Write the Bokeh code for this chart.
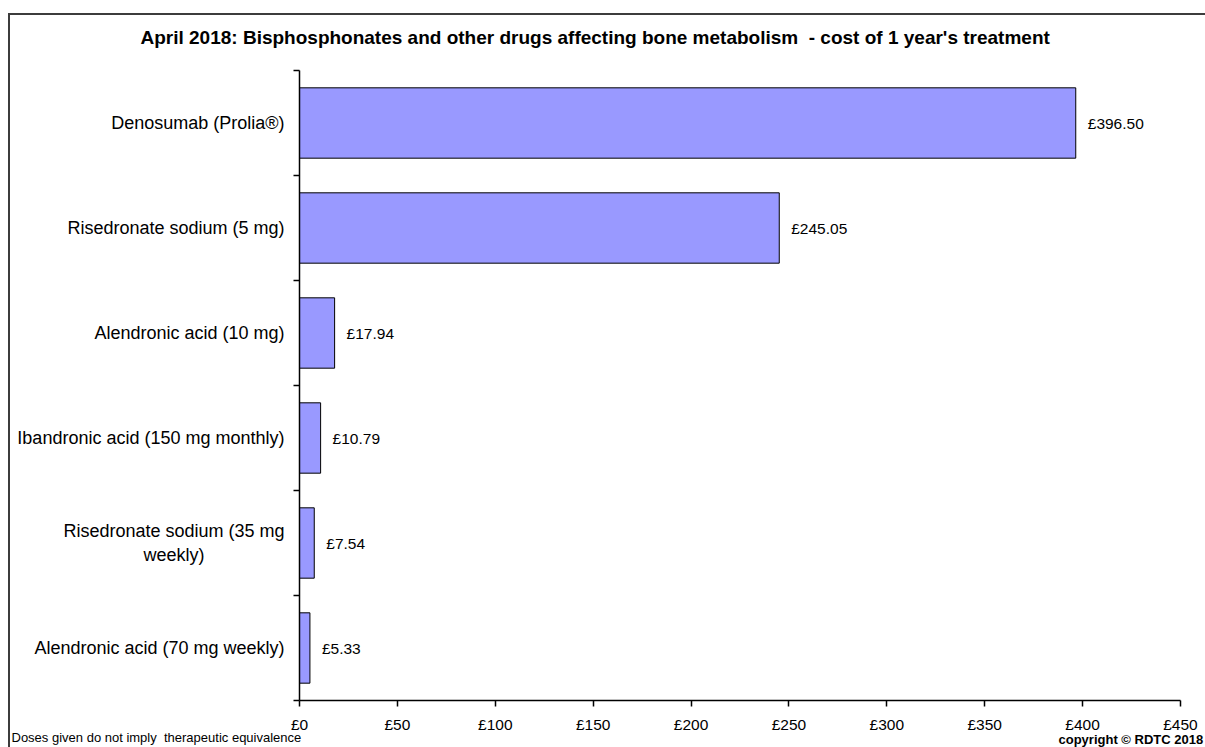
from bokeh.plotting import figure
from bokeh.models import Range1d, FixedTicker, Title, ColumnDataSource
from bokeh.embed import file_html
from bokeh.resources import INLINE

# ---- data (top to bottom as shown) ----
categories = [
    "Denosumab (Prolia®)",
    "Risedronate sodium (5 mg)",
    "Alendronic acid (10 mg)",
    "Ibandronic acid (150 mg monthly)",
    "Risedronate sodium (35 mg\nweekly)",
    "Alendronic acid (70 mg weekly)",
]
costs = [396.50, 245.05, 17.94, 10.79, 7.54, 5.33]
value_labels = ["£396.50", "£245.05", "£17.94", "£10.79", "£7.54", "£5.33"]
x_ticks = [0, 50, 100, 150, 200, 250, 300, 350, 400, 450]
x_tick_labels = ["£0", "£50", "£100", "£150", "£200", "£250", "£300", "£350", "£400", "£450"]
title_text = "April 2018: Bisphosphonates and other drugs affecting bone metabolism\u00a0 - cost of 1 year's treatment"
footnote_left = "Doses given do not imply\u00a0 therapeutic equivalence"
footnote_right = "copyright © RDTC 2018"

FONT = "Liberation Sans"
n = len(categories)
ypos = [n - i - 0.5 for i in range(n)]


def centre_lines(label):
    # right-aligned axis labels: pad shorter lines so that wrapped lines look centred
    lines = label.split("\n")
    if len(lines) == 1:
        return label
    longest = max(len(l) for l in lines)
    out = []
    for l in lines:
        pad = int(round((longest - len(l)) * 0.89))
        out.append(l + "\u00a0" * pad)
    return "\n".join(out)


src = ColumnDataSource(dict(y=ypos, cost=costs, lab=value_labels))

p = figure(width=1205, height=747, output_backend="svg", toolbar_location=None,
           x_range=Range1d(0, 450), y_range=Range1d(0, n))
p.min_border_left = 299
p.min_border_top = 70
p.min_border_right = 25
p.min_border_bottom = 47
p.outline_line_color = None
p.background_fill_color = "white"
p.border_fill_color = None
p.xgrid.visible = False
p.ygrid.visible = False
# outer chart-area frame (top and left edges visible, as in the reference)
p.styles = {
    "background": ("linear-gradient(#3c3c3c,#3c3c3c) 8px 13px / 2px 100% no-repeat, "
                   "linear-gradient(#3c3c3c,#3c3c3c) 8px 13px / 100% 2px no-repeat, white"),
}

p.hbar(y="y", left=0, right="cost", height=0.67, source=src,
       fill_color="#9999FF", line_color="#000000", line_width=1)

p.text(x="cost", y="y", text="lab", source=src, x_offset=12, text_baseline="middle",
       text_align="left", text_font_size="15.5px", text_font={"value": FONT}, text_color="#000000")

# x axis
xa = p.xaxis[0]
xa.ticker = FixedTicker(ticks=x_ticks, minor_ticks=[])
xa.major_label_overrides = {t: l for t, l in zip(x_ticks, x_tick_labels)}
xa.major_tick_out = 6
xa.major_tick_in = 0
xa.minor_tick_out = 0
xa.minor_tick_in = 0
xa.axis_line_color = "#000000"
xa.axis_line_width = 1.5
xa.major_tick_line_color = "#000000"
xa.major_tick_line_width = 1.5
xa.major_label_text_font = FONT
xa.major_label_text_font_size = "15.5px"
xa.major_label_text_color = "#000000"
xa.major_label_standoff = 9

# y axis
ya = p.yaxis[0]
ya.ticker = FixedTicker(ticks=ypos, minor_ticks=list(range(n + 1)))
ya.major_label_overrides = {y: centre_lines(c) for y, c in zip(ypos, categories)}
ya.major_tick_out = 0
ya.major_tick_in = 0
ya.minor_tick_out = 6
ya.minor_tick_in = 0
ya.axis_line_color = "#000000"
ya.axis_line_width = 1.5
ya.minor_tick_line_color = "#000000"
ya.minor_tick_line_width = 1.5
ya.major_label_text_font = FONT
ya.major_label_text_font_size = "18px"
ya.major_label_text_color = "#000000"
ya.major_label_standoff = 9

# title and footnotes as layout titles
p.add_layout(Title(text=title_text, align="left", offset=-159, standoff=46,
                   text_font=FONT, text_font_style="bold", text_font_size="19px",
                   text_color="#000000"), "above")
p.add_layout(Title(text=footnote_left, align="left", offset=-288, standoff=-18,
                   text_font=FONT, text_font_style="normal", text_font_size="13px",
                   text_color="#000000"), "below")
p.add_layout(Title(text=footnote_right, align="left", offset=759, standoff=-11,
                   text_font=FONT, text_font_style="bold", text_font_size="13px",
                   text_color="#000000"), "below")

open("out.html", "w").write(file_html(p, INLINE))
